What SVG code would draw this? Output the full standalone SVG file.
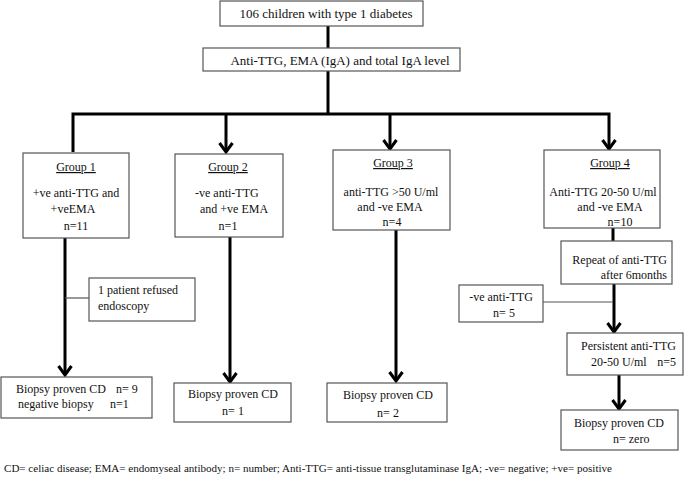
<svg xmlns="http://www.w3.org/2000/svg" width="685" height="478" viewBox="0 0 685 478">
<style>
.box{fill:#fff;stroke:#555;stroke-width:1.2}
.t{font-family:"Liberation Serif","Times New Roman",serif;font-size:12px;fill:#111}
.big{font-size:13px}
.c{text-anchor:middle}
.u{text-decoration:underline}
.flow{fill:none;stroke:#000;stroke-width:3}
.thin{fill:none;stroke:#555;stroke-width:1.2}
.foot{font-family:"Liberation Serif","Times New Roman",serif;font-size:10.5px;fill:#111}
</style>
<defs>
<marker id="arr" markerUnits="userSpaceOnUse" markerWidth="20" markerHeight="20" viewBox="-4 -10 20 20" refX="10" refY="0" orient="auto" overflow="visible">
<path d="M1,-6.5 L10,0 L1,6.5" fill="none" stroke="#000" stroke-width="3"/>
</marker>
</defs>
<rect width="685" height="478" fill="#fff"/>
<g id="connectors">
<line class="flow" x1="328" y1="26" x2="328" y2="48"/>
<line class="flow" x1="328" y1="71" x2="328" y2="114"/>
<polyline class="flow" points="73,152 73,114 609,114 609,149" marker-end="url(#arr)"/>
<line class="flow" x1="226" y1="114" x2="226" y2="152" marker-end="url(#arr)"/>
<line class="flow" x1="390" y1="114" x2="390" y2="149" marker-end="url(#arr)"/>
<line class="flow" x1="65" y1="238" x2="65" y2="375" marker-end="url(#arr)"/>
<line class="thin" x1="65" y1="298" x2="89" y2="298"/>
<line class="flow" x1="230" y1="237" x2="230" y2="382" marker-end="url(#arr)"/>
<line class="flow" x1="396" y1="230" x2="396" y2="381" marker-end="url(#arr)"/>
<line class="flow" x1="613" y1="228" x2="613" y2="241"/>
<line class="flow" x1="614" y1="284" x2="614" y2="332" marker-end="url(#arr)"/>
<line class="thin" x1="543" y1="302" x2="613" y2="302"/>
<line class="flow" x1="619" y1="375" x2="619" y2="409" marker-end="url(#arr)"/>
</g>
<g id="n-start">
<rect class="box" x="220" y="1" width="203" height="25"/>
<text class="t big c" x="326" y="18">106 children with type 1 diabetes</text>
</g>
<g id="n-tests">
<rect class="box" x="203" y="48" width="257" height="23"/>
<text class="t big c" x="340" y="65">Anti-TTG, EMA (IgA) and total IgA level</text>
</g>
<g id="n-group1">
<rect class="box" x="23" y="153" width="106" height="85"/>
<text class="t c u" x="76" y="171">Group 1</text>
<text class="t c" x="76" y="197">+ve anti-TTG and</text>
<text class="t c" x="73" y="213">+veEMA</text>
<text class="t c" x="76" y="230">n=11</text>
</g>
<g id="n-group2">
<rect class="box" x="175" y="154" width="108" height="83"/>
<text class="t c u" x="228" y="171">Group 2</text>
<text class="t" x="195" y="197">-ve anti-TTG</text>
<text class="t" x="200" y="213">and +ve EMA</text>
<text class="t c" x="228" y="230">n=1</text>
</g>
<g id="n-group3">
<rect class="box" x="333" y="150" width="117" height="80"/>
<text class="t c u" x="393" y="167">Group 3</text>
<text class="t c" x="391" y="196">anti-TTG &gt;50 U/ml</text>
<text class="t c" x="390" y="211">and -ve EMA</text>
<text class="t c" x="392" y="226">n=4</text>
</g>
<g id="n-group4">
<rect class="box" x="544" y="150" width="116" height="78"/>
<text class="t c u" x="610" y="167">Group 4</text>
<text class="t c" x="603" y="196">Anti-TTG 20-50 U/ml</text>
<text class="t c" x="610" y="211">and -ve EMA</text>
<text class="t c" x="620" y="226">n=10</text>
</g>
<g id="n-refused">
<rect class="box" x="89" y="278" width="106" height="43"/>
<text class="t" x="98" y="294">1 patient refused</text>
<text class="t" x="98" y="310">endoscopy</text>
</g>
<g id="n-result1">
<rect class="box" x="1" y="377" width="151" height="41"/>
<text class="t" x="16" y="393">Biopsy proven CD</text>
<text class="t" x="116" y="393">n= 9</text>
<text class="t" x="18" y="408">negative biopsy</text>
<text class="t" x="110" y="408">n=1</text>
</g>
<g id="n-result2">
<rect class="box" x="174" y="383" width="117" height="39"/>
<text class="t c" x="233" y="398">Biopsy proven CD</text>
<text class="t c" x="233" y="415">n= 1</text>
</g>
<g id="n-result3">
<rect class="box" x="327" y="383" width="120" height="39"/>
<text class="t c" x="388" y="399">Biopsy proven CD</text>
<text class="t c" x="388" y="417">n= 2</text>
</g>
<g id="n-repeat">
<rect class="box" x="561" y="241" width="111" height="43"/>
<text class="t" x="667" y="264" text-anchor="end">Repeat of anti-TTG</text>
<text class="t" x="667" y="279" text-anchor="end">after 6months</text>
</g>
<g id="n-negttg">
<rect class="box" x="459" y="285" width="84" height="37"/>
<text class="t c" x="501" y="301">-ve anti-TTG</text>
<text class="t c" x="504" y="317">n= 5</text>
</g>
<g id="n-persistent">
<rect class="box" x="567" y="333" width="116" height="42"/>
<text class="t" x="676" y="350" text-anchor="end">Persistent anti-TTG</text>
<text class="t" x="591" y="366">20-50 U/ml</text>
<text class="t" x="676" y="366" text-anchor="end">n=5</text>
</g>
<g id="n-result4">
<rect class="box" x="561" y="410" width="117" height="40"/>
<text class="t" x="574" y="427">Biopsy proven CD</text>
<text class="t" x="613" y="443">n= zero</text>
</g>
<text class="foot" x="4" y="472" textLength="608" lengthAdjust="spacingAndGlyphs">CD= celiac disease; EMA= endomyseal antibody; n= number; Anti-TTG= anti-tissue transglutaminase IgA; -ve= negative; +ve= positive</text>
</svg>
